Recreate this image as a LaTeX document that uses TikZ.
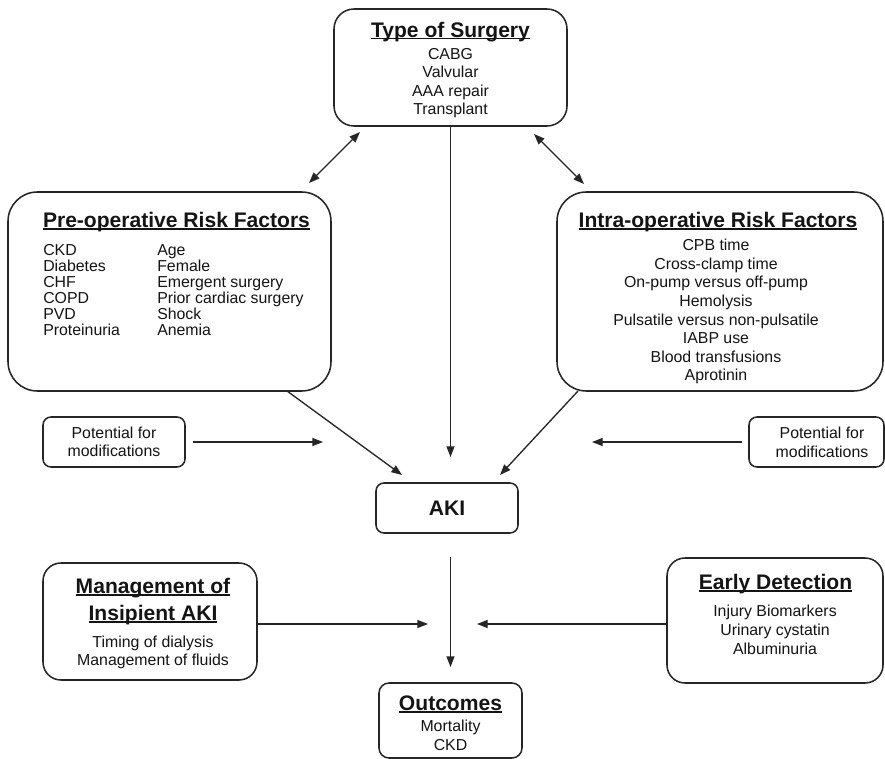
\documentclass[tikz,border=0pt]{standalone}
\usepackage{fontspec}
\setmainfont{Liberation Sans}
\usetikzlibrary{arrows.meta,fit}
\definecolor{txt}{HTML}{141414}
\definecolor{linec}{HTML}{262626}
\newcommand\hul[1]{\setbox0\hbox{#1}\rlap{\color{txt}\rule[-1.6pt]{\wd0}{1pt}}\box0}
\begin{document}
\begin{tikzpicture}[x=0.75pt,y=-0.75pt,
  box/.style={draw=linec, line width=1.15pt, inner sep=0pt, outer sep=0pt},
  hd/.style={font=\fontsize{15.8}{18}\selectfont\bfseries, text=txt, inner sep=0pt, anchor=base},
  bd/.style={font=\fontsize{11.9}{14}\selectfont, text=txt, inner sep=0pt, anchor=base},
  arr/.style={draw=linec, line width=1pt, -{Triangle[length=8pt,width=6pt]}},
  darr/.style={draw=linec, line width=1pt, {Triangle[length=8pt,width=6pt]}-{Triangle[length=8pt,width=6pt]}}]
\useasboundingbox (0,0) rectangle (885,759);
\fill[white] (0,0) rectangle (885,759);

% boxes
\node[box, rounded corners=15pt, fit={(334,9)(567,126)}] (type) {};
\node[box, rounded corners=22pt, fit={(8,192)(331,391)}] (pre) {};
\node[box, rounded corners=22pt, fit={(557,192)(883,391)}] (intra) {};
\node[box, rounded corners=6pt, fit={(43,417)(185,467)}] (potL) {};
\node[box, rounded corners=6pt, fit={(749,417)(884,467)}] (potR) {};
\node[box, rounded corners=6pt, fit={(376,483)(518,533)}] (aki) {};
\node[box, rounded corners=13.5pt, fit={(43,563)(257,680)}] (mgmt) {};
\node[box, rounded corners=13.5pt, fit={(667,558)(883,683)}] (early) {};
\node[box, rounded corners=7.5pt, fit={(379,683)(522,758)}] (out) {};

% Type of surgery
\node[hd] (typeh) at (450.5,37.3) {\hul{Type of Surgery}};
\foreach \t [count=\i] in {CABG,Valvular,AAA repair,Transplant}
  \node[bd] (typel\i) at (450.5,{41+18.5*\i}) {\t};

% Pre-operative
\node[hd] (preh) at (176.5,227.5) {\hul{Pre-operative Risk Factors}};
\foreach \t [count=\i] in {CKD,Diabetes,CHF,COPD,PVD,Proteinuria}
  \node[bd,anchor=base west] (prea\i) at (43,{240.1+15.9*\i}) {\t};
\foreach \t [count=\i] in {Age,Female,Emergent surgery,Prior cardiac surgery,Shock,Anemia}
  \node[bd,anchor=base west] (preb\i) at (157,{240.1+15.9*\i}) {\t};

% Intra-operative
\node[hd] (intrah) at (718,227.5) {\hul{Intra-operative Risk Factors}};
\foreach \t [count=\i] in {CPB time,Cross-clamp time,On-pump versus off-pump,Hemolysis,Pulsatile versus non-pulsatile,IABP use,Blood transfusions,Aprotinin}
  \node[bd] (intral\i) at (716,{232.1+18.6*\i}) {\t};

% Potential boxes
\node[bd] (potLa) at (114,438.7) {Potential for};
\node[bd] (potLb) at (114,456.9) {modifications};
\node[bd] (potRa) at (822,438.7) {Potential for};
\node[bd] (potRb) at (822,457) {modifications};

% AKI
\node[hd] (akit) at (447,515.5) {AKI};

% Management
\node[hd] (mgmth1) at (153,593.5) {\hul{Management of}};
\node[hd] (mgmth2) at (153,620.5) {\hul{Insipient AKI}};
\node[bd] (mgmtl1) at (153,647.7) {Timing of dialysis};
\node[bd] (mgmtl2) at (153,665.7) {Management of fluids};

% Early detection
\node[hd] (earlyh) at (775.5,589.5) {\hul{Early Detection}};
\foreach \t [count=\i] in {Injury Biomarkers,Urinary cystatin,Albuminuria}
  \node[bd] (earlyl\i) at (775,{597.7+19*\i}) {\t};

% Outcomes
\node[hd] (outh) at (450.5,710.5) {\hul{Outcomes}};
\node[bd] (outl1) at (450.5,731.7) {Mortality};
\node[bd] (outl2) at (450.5,750.7) {CKD};

% connector end points
\coordinate (dla) at (360,132);
\coordinate (dlb) at (309,183);
\coordinate (dra) at (534,134);
\coordinate (drb) at (584,184);
\coordinate (preo) at (287,391);
\coordinate (prei) at (402,475);
\coordinate (intrao) at (578,391);
\coordinate (intrai) at (500,475);
\coordinate (potLo) at (193,442);
\coordinate (potLi) at (323,442);
\coordinate (potRo) at (742,442);
\coordinate (potRi) at (592,442);
\coordinate (typei) at (450.5,457);
\coordinate (akio) at (450.5,557);
\coordinate (outi) at (450.5,667);
\coordinate (mgmti) at (428,624);
\coordinate (earlyi) at (477,624);

% connectors
\draw[darr] (dla) -- (dlb);
\draw[darr] (dra) -- (drb);
\draw[arr] (type.south) -- (typei);
\draw[arr] (preo) -- (prei);
\draw[arr] (intrao) -- (intrai);
\draw[arr] (potLo) -- (potLi);
\draw[arr] (potRo) -- (potRi);
\draw[arr] (akio) -- (outi);
\draw[arr] (mgmt.east |- mgmti) -- (mgmti);
\draw[arr] (early.west |- earlyi) -- (earlyi);
\end{tikzpicture}
\end{document}
